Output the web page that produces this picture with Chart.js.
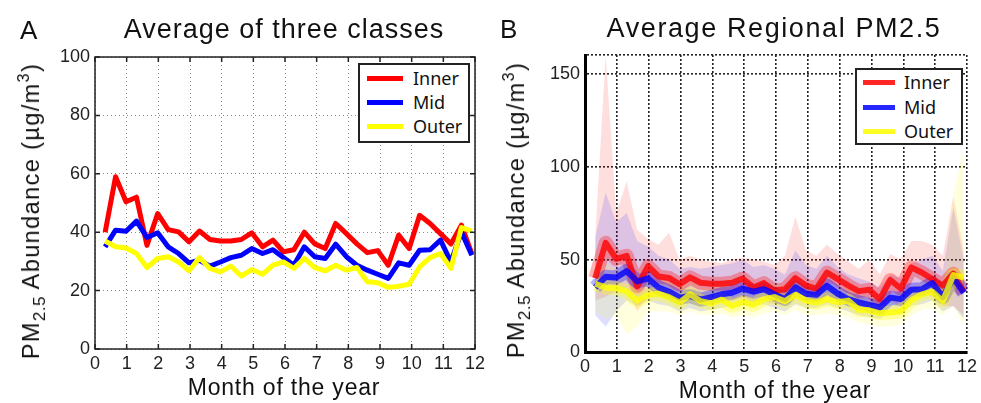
<!DOCTYPE html>
<html>
<head>
<meta charset="utf-8">
<script src="https://cdn.jsdelivr.net/npm/chart.js@4.4.1/dist/chart.umd.min.js"></script>
<style>
  body { margin: 0; background: #fff; width: 981px; height: 403px; overflow: hidden; position: relative;
         font-family: "Liberation Sans", Arial, sans-serif; color: #111; }
  .pane { position: absolute; top: 0; height: 403px; }
  .txt { position: absolute; white-space: nowrap; line-height: 1; }
  .ytitle { position: absolute; white-space: nowrap; line-height: 1; font-size: 23.5px; letter-spacing: 1.4px;
            transform: translate(-50%, -50%) rotate(-90deg); }
  .ytitle sub { font-size: 17px; vertical-align: -6px; letter-spacing: 0.5px; }
  .ytitle sup { font-size: 16px; vertical-align: 10px; }
  .leg { position: absolute; background: #fff; border: 2px solid #222; box-sizing: border-box; }
  .leg .row { position: absolute; left: 0; height: 20px; }
  .leg .sw { position: absolute; height: 5px; }
  .leg .nm { position: absolute; font-family: "Noto Sans", "Open Sans", sans-serif; font-size: 18px; line-height: 20px; top: 0; }
</style>
</head>
<body>
<div class="pane" style="left:0;width:490px"><canvas id="chartA" width="490" height="403"></canvas></div>
<div class="pane" style="left:490px;width:491px"><canvas id="chartB" width="491" height="403"></canvas></div>

<!-- panel A text -->
<div class="txt" style="left:20px;top:17px;font-size:26px">A</div>
<div class="txt" style="left:284px;top:16px;font-size:27px;letter-spacing:1px;transform:translateX(-50%)">Average of three classes</div>
<div class="ytitle" style="left:32px;top:211px">PM<sub>2.5</sub> Abundance (µg/m<sup>3</sup>)</div>
<div class="txt" style="left:284px;top:376px;font-size:23px;letter-spacing:0.8px;transform:translateX(-50%)">Month of the year</div>
<div class="leg" id="legA" style="left:358px;top:63px;width:112px;height:80px"></div>

<!-- panel B text -->
<div class="txt" style="left:500px;top:16px;font-size:26px">B</div>
<div class="txt" style="left:774px;top:15px;font-size:27px;letter-spacing:1.6px;transform:translateX(-50%)">Average Regional PM2.5</div>
<div class="ytitle" style="left:517px;top:210px">PM<sub>2.5</sub> Abundance (µg/m<sup>3</sup>)</div>
<div class="txt" style="left:775px;top:379px;font-size:23px;letter-spacing:0.8px;transform:translateX(-50%)">Month of the year</div>
<div class="leg" id="legB" style="left:855px;top:68px;width:108px;height:77px"></div>

<script>
// time axis: roughly 3 samples per month
const months = [0.32, 0.65, 0.98, 1.31, 1.64, 1.98, 2.31, 2.64, 2.97, 3.30, 3.63, 3.96,
                4.29, 4.62, 4.95, 5.29, 5.62, 5.95, 6.28, 6.61, 6.94, 7.27, 7.60, 7.94,
                8.27, 8.60, 8.93, 9.26, 9.59, 9.92, 10.25, 10.58, 10.91, 11.24, 11.57, 11.90];

const seriesNames = ['Inner', 'Mid', 'Outer'];

// averages (panel A and centre lines of panel B)
const innerAvg = [40, 59, 50.4, 52, 35.5, 46.4, 40.9, 40.1, 36.7, 40.4, 37.5, 37,
                  37, 37.5, 39.8, 35, 37.3, 33.3, 34, 40, 36, 34.4, 43, 39.5,
                  36, 33, 33.7, 28.7, 39, 34.4, 45.8, 43, 39.5, 36, 42.4, 32.7];
const midAvg = [35, 40.7, 40.3, 43.8, 38.2, 39.8, 35, 32.7, 29.5, 30.4, 28.4, 29.8,
                31.3, 32.1, 34.4, 32.7, 34, 31.3, 28.7, 35, 31.6, 31, 35.9, 31.6,
                28.7, 27, 25.6, 24.2, 29.5, 28.7, 33.8, 34, 37.3, 29.8, 40.1, 32.1];
const outerAvg = [37, 35, 34.6, 32.7, 27.9, 31, 31.6, 29.8, 26.8, 31.3, 27.6, 26.4,
                  28.4, 25, 27.2, 25.6, 28.7, 29.8, 27.6, 31, 27.9, 26.8, 28.7, 27,
                  27.9, 23, 22.7, 21.1, 21.5, 22.2, 28.1, 31.3, 32.7, 27.6, 41.6, 40.4];

// regional spread (panel B envelopes)
const innerMax = [62, 160, 75, 92, 66, 61, 58, 64.6, 50, 52, 50, 49,
                  48, 50, 51, 50, 49, 47, 52, 73, 55, 52, 58, 53,
                  49, 45, 50, 42, 53, 50, 60, 60, 58, 52, 84, 55];
const innerMin = [28, 30, 33, 35, 22, 30, 30, 29, 27, 30, 28, 28,
                  28, 28, 29, 27, 28, 26, 26, 29, 27, 26, 30, 28,
                  26, 25, 25, 21, 27, 25, 30, 32, 30, 25, 25, 20];
const midMax = [62, 86, 70, 75, 60, 57, 52, 50, 45, 46, 45, 46,
                47, 48, 50, 46, 47, 45, 42, 55, 47, 45, 52, 46,
                42, 40, 38, 35, 42, 40, 48, 50, 52, 44, 78, 50];
const midMin = [20, 14, 22, 28, 25, 28, 26, 25, 22, 24, 22, 23,
                24, 25, 26, 25, 26, 24, 22, 26, 24, 24, 26, 24,
                22, 20, 19, 18, 22, 21, 25, 26, 28, 22, 25, 18];
const outerMax = [45, 48, 45, 42, 38, 40, 40, 38, 35, 38, 35, 34,
                  36, 33, 35, 33, 36, 37, 35, 38, 35, 34, 36, 34,
                  35, 30, 30, 28, 28, 29, 35, 38, 40, 36, 85, 110];
const outerMin = [22, 18, 20, 10, 14, 22, 22, 22, 20, 22, 20, 20,
                  21, 19, 20, 19, 21, 22, 20, 23, 20, 20, 21, 20,
                  19, 16, 15, 14, 14, 15, 20, 23, 24, 20, 25, 14];

const monthTicks = [0, 1, 2, 3, 4, 5, 6, 7, 8, 9, 10, 11, 12];
const yTicksA = [0, 20, 40, 60, 80, 100];
const yTicksB = [0, 50, 100, 150];
const yMaxB = 160;

const lineColors = ['#ff0000', '#0000ff', '#ffff00'];
const rgb = ['255,0,0', '0,0,255', '255,255,0'];
const avgs = [innerAvg, midAvg, outerAvg];
const envMax = [innerMax, midMax, outerMax];
const envMin = [innerMin, midMin, outerMin];

const pts = arr => arr.map((v, i) => ({ x: months[i], y: v }));
const tickFont = { family: '"Liberation Sans", Arial, sans-serif', size: 18 };

// box + inward tick marks for panel A
const boxPlugin = {
    id: 'box',
    afterDraw(chart) {
        if (!chart.options.plugins.box || !chart.options.plugins.box.on) return;
        const { ctx, chartArea: a, scales } = chart;
        ctx.save();
        ctx.strokeStyle = '#222';
        ctx.lineWidth = 1.5;
        ctx.strokeRect(a.left, a.top, a.right - a.left, a.bottom - a.top);
        ctx.beginPath();
        scales.x.ticks.forEach(t => {
            const px = scales.x.getPixelForValue(t.value);
            ctx.moveTo(px, a.bottom); ctx.lineTo(px, a.bottom - 5);
            ctx.moveTo(px, a.top); ctx.lineTo(px, a.top + 5);
        });
        scales.y.ticks.forEach(t => {
            const py = scales.y.getPixelForValue(t.value);
            ctx.moveTo(a.left, py); ctx.lineTo(a.left + 5, py);
            ctx.moveTo(a.right, py); ctx.lineTo(a.right - 5, py);
        });
        ctx.stroke();
        ctx.restore();
    }
};

function baseScales(yMax, yTicks, gridColor, gridWidth, dash, axisBorder) {
    return {
        x: {
            type: 'linear', min: 0, max: 12,
            afterBuildTicks: s => { s.ticks = monthTicks.map(v => ({ value: v })); },
            afterFit: s => { s.height = 25; },
            grid: { color: gridColor, lineWidth: gridWidth, drawTicks: false },
            border: axisBorder ? { display: true, color: '#000', width: 3, dash: dash } : { display: false, dash: dash },
            ticks: { color: '#222', font: tickFont, padding: 4, maxRotation: 0 }
        },
        y: {
            type: 'linear', min: 0, max: yMax,
            afterBuildTicks: s => {
                const t = yTicks.slice();
                if (yMax !== yTicks[yTicks.length - 1]) t.push(yMax);
                s.ticks = t.map(v => ({ value: v }));
            },
            afterFit: s => { s.width = 40; },
            grid: { color: gridColor, lineWidth: gridWidth, drawTicks: false },
            border: axisBorder ? { display: true, color: '#000', width: 3, dash: dash } : { display: false, dash: dash },
            ticks: { color: '#222', font: tickFont, padding: 5,
                     callback: v => (yTicks.includes(v) ? v : '') }
        }
    };
}

// ---- panel A
const dsA = seriesNames.map((name, k) => ({
    label: name,
    data: pts(avgs[k]),
    borderColor: lineColors[k],
    borderWidth: 5,
    pointRadius: 0,
    tension: 0,
    borderJoinStyle: 'round',
    fill: false,
    order: 3 - k
}));

new Chart(document.getElementById('chartA'), {
    type: 'line',
    data: { datasets: dsA },
    options: {
        responsive: false,
        animation: false,
        layout: { padding: { left: 55, top: 57, right: 15, bottom: 29 } },
        plugins: { legend: { display: false }, tooltip: { enabled: false }, box: { on: true } },
        scales: baseScales(100, yTicksA, '#8a8a8a', 1, [1, 3], false)
    },
    plugins: [boxPlugin]
});

// ---- panel B
const dsB = [];
seriesNames.forEach((name, k) => {
    dsB.push({ label: name + ' min', data: pts(envMin[k]), borderWidth: 0, pointRadius: 0,
               tension: 0, fill: false, order: 30 - k });
    dsB.push({ label: name + ' max', data: pts(envMax[k]), borderWidth: 0, pointRadius: 0,
               tension: 0, fill: '-1', backgroundColor: `rgba(${rgb[k]},0.13)`, order: 30 - k });
});
seriesNames.forEach((name, k) => {
    dsB.push({ label: name + ' spread', data: pts(avgs[k]), borderColor: `rgba(${rgb[k]},0.3)`,
               borderWidth: 14, pointRadius: 0, tension: 0, fill: false, order: 20 - k,
               borderJoinStyle: 'round' });
    dsB.push({ label: name, data: pts(avgs[k]), borderColor: `rgba(${rgb[k]},0.8)`,
               borderWidth: 6, pointRadius: 0, tension: 0, fill: false, order: 10 - k,
               borderJoinStyle: 'round' });
});

new Chart(document.getElementById('chartB'), {
    type: 'line',
    data: { datasets: dsB },
    options: {
        responsive: false,
        animation: false,
        layout: { padding: { left: 55, top: 55, right: 13, bottom: 25.5 } },
        plugins: { legend: { display: false }, tooltip: { enabled: false } },
        scales: baseScales(yMaxB, yTicksB, '#222', 1.6, [2, 2], true)
    }
});

// ---- legends
function buildLegend(id, rows, lineL, lineR, textL, alpha) {
    const el = document.getElementById(id);
    seriesNames.forEach((name, k) => {
        const row = document.createElement('div');
        row.className = 'row';
        row.style.top = (rows[k] - 10) + 'px';
        row.style.width = '100%';
        const sw = document.createElement('div');
        sw.className = 'sw';
        sw.style.left = lineL + 'px';
        sw.style.width = (lineR - lineL) + 'px';
        sw.style.top = '8px';
        sw.style.background = `rgba(${rgb[k]},${alpha})`;
        const nm = document.createElement('div');
        nm.className = 'nm';
        nm.style.left = textL + 'px';
        nm.textContent = name;
        row.appendChild(sw);
        row.appendChild(nm);
        el.appendChild(row);
    });
}
buildLegend('legA', [13, 37, 61], 7, 43, 53, 1);
buildLegend('legB', [12, 37, 61], 6, 38, 47, 0.85);
</script>
</body>
</html>
